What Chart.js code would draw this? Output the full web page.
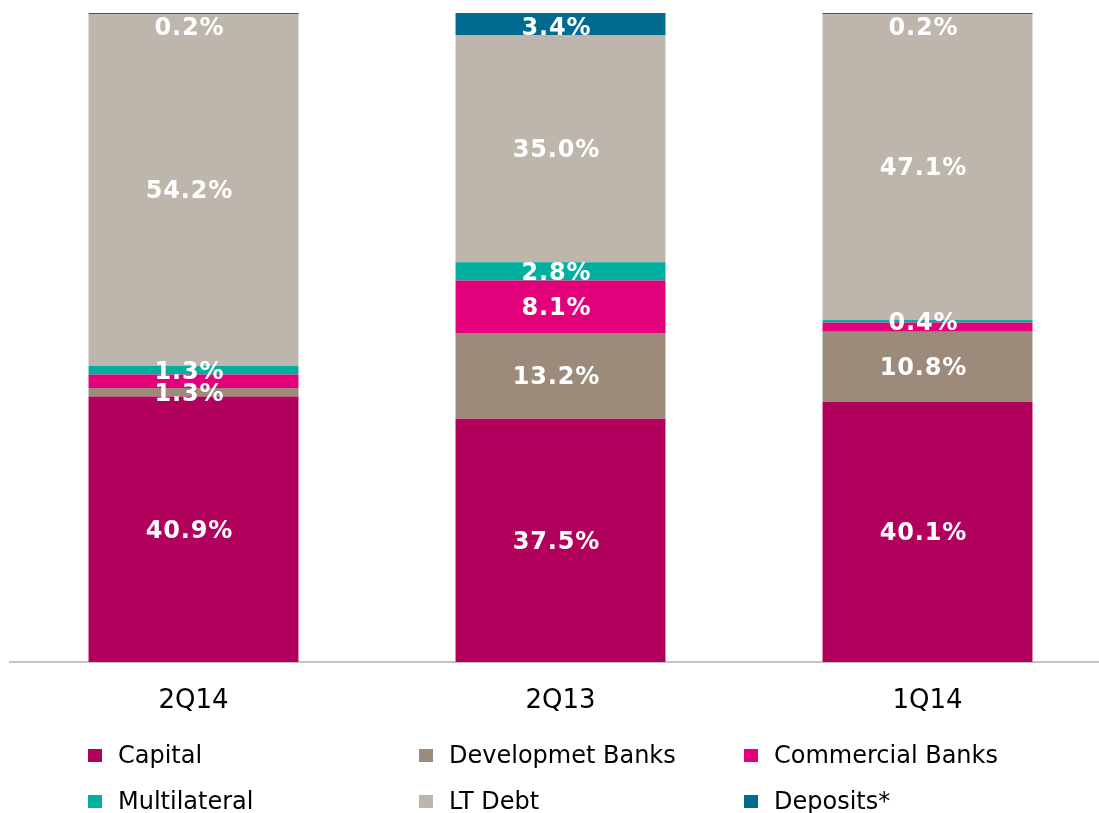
<!DOCTYPE html>
<html>
<head>
<meta charset="utf-8">
<script src="https://cdn.jsdelivr.net/npm/chart.js@4/dist/chart.umd.min.js"></script>
<style>
  html, body { margin: 0; padding: 0; background: #fff; overflow: hidden; width: 1099px; height: 813px; }
  #wrap { position: absolute; left: 0; top: 0; width: 1111px; height: 813px; }
  #legend { position: absolute; left: 0; top: 0; width: 1099px; height: 813px; pointer-events: none;
            font-family: "DejaVu Sans", Verdana, sans-serif; font-size: 24px; color: #000; }
  .item { position: absolute; height: 30px; display: flex; align-items: center; white-space: nowrap; line-height: 30px; }
  .sw { width: 14px; height: 13px; margin-right: 16px; flex: none; }
</style>
</head>
<body>
<div id="wrap"><canvas id="c" width="1111" height="813"></canvas></div>
<div id="legend"></div>
<script>
// ---- data ----
const categories = ["2Q14", "2Q13", "1Q14"];
const seriesNames = ["Capital", "Developmet Banks", "Commercial Banks", "Multilateral", "LT Debt", "Deposits*"];
const capital      = [40.9, 37.5, 40.1];
const devBanks     = [1.3, 13.2, 10.8];
const commBanks    = [2.1, 8.1, 1.4];
const multilateral = [1.3, 2.8, 0.4];
const ltDebt       = [54.2, 35.0, 47.1];
const deposits     = [0.2, 3.4, 0.2];
// which value labels are shown (per series, per category)
const labelShown = [
  [true, true, true],
  [true, true, true],
  [false, true, false],
  [true, true, true],
  [true, true, true],
  [true, true, true]
];
const colors = ["#B2005D", "#9C8B7B", "#E3007B", "#00AF9E", "#BEB5AC", "#006B8E"];

const seriesValues = [capital, devBanks, commBanks, multilateral, ltDebt, deposits];

const valueLabels = {
  id: "valueLabels",
  afterDatasetsDraw(chart) {
    const ctx = chart.ctx;
    const top = chart.chartArea.top;
    ctx.save();
    ctx.font = "bold 24px 'DejaVu Sans', Verdana, sans-serif";
    ctx.fillStyle = "#FFFFFF";
    ctx.textAlign = "center";
    ctx.textBaseline = "middle";
    try { ctx.letterSpacing = "0.8px"; } catch (e) {}
    chart.data.datasets.forEach((ds, di) => {
      const meta = chart.getDatasetMeta(di);
      meta.data.forEach((bar, i) => {
        if (!labelShown[di][i]) return;
        const p = bar.getProps(["x", "y", "base"], true);
        let cy = (p.y + p.base) / 2;
        if (cy < top + 14) cy = top + 14;
        ctx.fillText(ds.data[i].toFixed(1) + "%", p.x - 4, cy + 2);
      });
    });
    ctx.restore();
  }
};

new Chart(document.getElementById("c"), {
  type: "bar",
  data: {
    labels: categories,
    datasets: seriesNames.map((name, k) => ({
      label: name,
      data: seriesValues[k],
      backgroundColor: colors[k],
      borderWidth: 0,
      categoryPercentage: 1,
      barPercentage: 0.572
    }))
  },
  options: {
    responsive: false,
    animation: false,
    devicePixelRatio: 1,
    layout: { padding: { left: 10, right: 0, top: 13, bottom: 91 } },
    plugins: { legend: { display: false }, tooltip: { enabled: false } },
    scales: {
      x: {
        stacked: true,
        grid: { display: false, drawTicks: false },
        border: { display: true, color: "#C4C4C4", width: 2 },
        ticks: { color: "#000", font: { family: "'DejaVu Sans', Verdana, sans-serif", size: 26 }, padding: 24, maxRotation: 0 },
        afterFit(s) { s.height = 60; }
      },
      y: {
        stacked: true,
        display: false,
        min: 0,
        max: 100
      }
    }
  },
  plugins: [valueLabels]
});

// ---- legend (3 columns x 2 rows) ----
const legendCols = [88, 419, 744];
const legendRows = [755, 801];
const legend = document.getElementById("legend");
seriesNames.forEach((name, k) => {
  const col = k % 3, row = Math.floor(k / 3);
  const d = document.createElement("div");
  d.className = "item";
  d.style.left = legendCols[col] + "px";
  d.style.top = (legendRows[row] - 15) + "px";
  const sw = document.createElement("span");
  sw.className = "sw";
  sw.style.background = colors[k];
  const t = document.createElement("span");
  t.textContent = name;
  d.appendChild(sw); d.appendChild(t);
  legend.appendChild(d);
});
</script>
</body>
</html>
